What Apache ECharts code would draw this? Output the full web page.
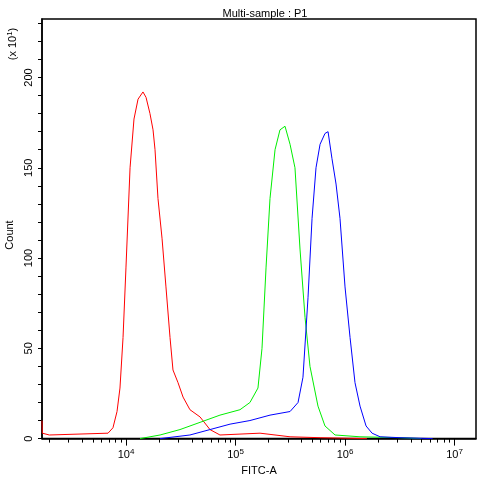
<!DOCTYPE html>
<html><head><meta charset="utf-8">
<script src="https://cdn.jsdelivr.net/npm/echarts@6/dist/echarts.min.js"></script>
<style>html,body{margin:0;padding:0;background:#fff}#c{width:485px;height:481px}</style>
</head><body><div id="c"></div>
<script>
// x values are log10(FITC-A)
const redX = [3.233,3.236,3.30,3.836,3.881,3.918,3.945,3.973,4.0,4.037,4.073,4.110,4.155,4.183,4.219,4.247,4.265,4.292,4.329,4.365,4.402,4.429,4.475,4.521,4.584,4.676,4.767,4.858,5.224,5.498,5.772,6.2];
const redY = [10,3,2,3,6,15,28,56,95,150,177,188,192,189,180,171,160,133,111,84,56,38,31,23,16,12,5,2,3,1,0.5,0];
const greenX = [4.128,4.311,4.493,4.676,4.858,5.041,5.132,5.205,5.242,5.279,5.315,5.361,5.406,5.452,5.498,5.543,5.589,5.635,5.680,5.753,5.817,5.909,6.137,6.502,6.7];
const greenY = [0,2,5,9,13,16,20,28,50,95,133,160,171,173,163,150,105,67,40,18,7,2,1,0.5,0];
const blueX = [4.311,4.584,4.767,4.950,5.132,5.315,5.498,5.571,5.616,5.662,5.699,5.735,5.772,5.817,5.845,5.881,5.918,5.954,6.0,6.046,6.091,6.137,6.192,6.247,6.320,6.502,6.8];
const blueY = [0,2,5,8,10,13,15,20,34,78,122,150,163,169,170,155,141,122,84,56,31,18,7,3,1,0.5,0];
const majorX = [4,5,6,7];
const minorX = [];
for (let n=3;n<=7;n++) for (let k=2;k<=9;k++){const v=n+Math.log10(k); if(v>3.233&&v<7.196) minorX.push(v);}
const yLabels = [0,50,100,150,200];
const yTicks = [];
for (let v=0; v<=230; v+=10) yTicks.push(v);

const zip=(a,b)=>a.map((x,i)=>[x,b[i]]);
const chart = echarts.init(document.getElementById('c'));
const ff='Liberation Sans, Arial, sans-serif';
const baseX = {type:'value',min:3.233,max:7.196,splitLine:{show:false}};
chart.setOption({
  animation:false,
  grid:{left:42,right:9,top:19,bottom:39,show:true,borderColor:'#000',borderWidth:1.5},
  title:{text:'Multi-sample : P1',left:260,top:3,textAlign:'center',textStyle:{fontSize:11,fontWeight:'normal',color:'#000',fontFamily:ff}},
  graphic:[
    {type:'text',x:10,y:235,rotation:Math.PI/2,style:{text:'Count',fontSize:11,fill:'#000',fontFamily:ff,align:'center',verticalAlign:'middle'}},
    {type:'text',x:13,y:44,rotation:Math.PI/2,style:{text:'(x 10{s|1})',fontSize:11,fill:'#000',fontFamily:ff,align:'center',verticalAlign:'middle',
      rich:{s:{fontSize:8,verticalAlign:'top',padding:[0,0,6,0]}}}}
  ],
  xAxis:[
    Object.assign({},baseX,{name:'FITC-A',nameLocation:'middle',nameGap:24,nameTextStyle:{fontSize:11,color:'#000',fontFamily:ff},
      axisLine:{lineStyle:{color:'#000',width:1.5}},
      axisTick:{customValues:majorX,length:7,lineStyle:{color:'#000'}},
      axisLabel:{customValues:majorX,color:'#000',fontSize:11,fontFamily:ff,margin:9,
        formatter:v=>'10{s|'+Math.round(v)+'}',rich:{s:{fontSize:8,verticalAlign:'top',padding:[0,0,6,0]}}}}),
    Object.assign({},baseX,{position:'bottom',axisLine:{show:false},
      axisTick:{customValues:minorX,length:4,lineStyle:{color:'#000'}},axisLabel:{show:false}})
  ],
  yAxis:[
    {type:'value',min:0,max:232.4,splitLine:{show:false},
      axisLine:{lineStyle:{color:'#000',width:1.5}},
      axisTick:{customValues:yTicks,length:4,lineStyle:{color:'#000'}},
      axisLabel:{customValues:yLabels,rotate:90,color:'#000',fontSize:11,fontFamily:ff,margin:8}}
  ],
  series:[
    {type:'line',data:zip(redX,redY),showSymbol:false,lineStyle:{color:'#ff0000',width:1},xAxisIndex:0},
    {type:'line',data:zip(greenX,greenY),showSymbol:false,lineStyle:{color:'#00ee00',width:1},xAxisIndex:0},
    {type:'line',data:zip(blueX,blueY),showSymbol:false,lineStyle:{color:'#0000ff',width:1},xAxisIndex:0}
  ]
});
</script></body></html>
